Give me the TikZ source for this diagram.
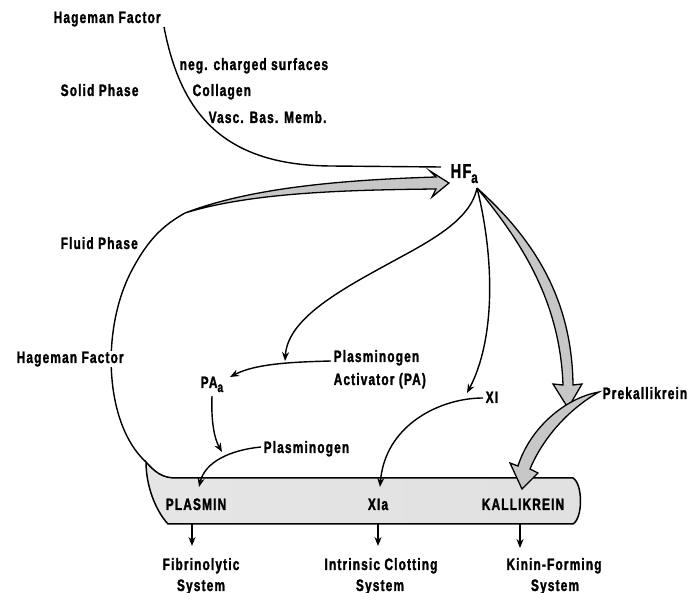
\documentclass[tikz,border=0pt]{standalone}
\usepackage{fontspec}
\setmainfont{Liberation Sans}[FakeStretch=0.72,LetterSpace=7,BoldFeatures={FakeBold=1.6}]
\usetikzlibrary{arrows.meta}
\begin{document}
\begin{tikzpicture}[x=1pt,y=-1pt,line width=1.4pt,
  lab/.style={inner sep=0pt,font=\bfseries\fontsize{16.5}{18}\selectfont},
  thinarrow/.style={-{Stealth[length=9pt,width=7pt]},line width=1.4pt},
  band/.style={fill=black!22,draw=black,line width=1.3pt,line join=miter}]
\useasboundingbox (0,0) rectangle (689,593);

% key points
\coordinate (hfo) at (477,188);
\coordinate (barTL) at (146,462);
\coordinate (fluidEnd) at (185,213);
\coordinate (solidStart) at (164,27);

% bar
\shadedraw[left color=black!10,middle color=black!42,right color=black!12,line width=1.5pt]
  (barTL) .. controls (155,472) and (162,478) .. (176,478) -- (573,478)
  .. controls (583,484) and (583,518) .. (573,524) -- (168,524)
  .. controls (155,510) and (146,485) .. (barTL) -- cycle;

% texts
\node[lab,anchor=base west] (hf1) at (53,23) {Hageman Factor};
\node[lab,anchor=base west] (neg) at (179,70) {neg. charged surfaces};
\node[lab,anchor=base west] (solid) at (60,96) {Solid Phase};
\node[lab,anchor=base west] (coll) at (192,96) {Collagen};
\node[lab,anchor=base west] (vasc) at (208,123) {Vasc. Bas. Memb.};
\node[lab,anchor=base west,font=\bfseries\fontsize{20}{20}\selectfont] (hfa) at (450,178) {HF\raisebox{-5pt}{\fontsize{16}{16}\selectfont a}};
\node[lab,anchor=base west] (fluid) at (60,249) {Fluid Phase};
\node[lab,anchor=base west] (pa1) at (333,362) {Plasminogen};
\node[lab,anchor=base west] (pa2) at (333,385) {Activator (PA)};
\node[lab,anchor=base west] (paa) at (200,388) {PA\raisebox{-4pt}{\fontsize{14}{14}\selectfont a}};
\node[lab,anchor=base west] (xi) at (485,403) {XI};
\node[lab,anchor=base west] (prek) at (602,399) {Prekallikrein};
\node[lab,anchor=base west] (plg) at (263,453) {Plasminogen};
\node[lab,anchor=base] (plasmin) at (196,510) {PLASMIN};
\node[lab,anchor=base] (xia) at (378,510) {XIa};
\node[lab,anchor=base] (kall) at (523,510) {KALLIKREIN};
\node[lab,anchor=base] (fib1) at (201,570) {Fibrinolytic};
\node[lab,anchor=base] (fib2) at (201,591) {System};
\node[lab,anchor=base] (int1) at (381,570) {Intrinsic Clotting};
\node[lab,anchor=base] (int2) at (380,591) {System};
\node[lab,anchor=base] (kin1) at (554,570) {Kinin-Forming};
\node[lab,anchor=base] (kin2) at (555,591) {System};

% solid phase activation
\draw (solidStart) .. controls (180,110) and (220,165) .. (330,166) -- (441,167);

% fluid phase loop
\draw (barTL) .. controls (105,425) and (100,330) .. (132,270)
  .. controls (148,240) and (162,226) .. (fluidEnd);
\filldraw[band] (fluidEnd) .. controls (250,188) and (340,180) .. (436,177)
  -- (430,171) -- (449,183) -- (432,197) -- (436,189)
  .. controls (340,190) and (250,193) .. (fluidEnd) -- cycle;
\node[lab,anchor=base west,fill=white,inner sep=1pt] (hf2) at (15,363) {Hageman Factor};

% broad arrows
\filldraw[band] (hfo) .. controls (520,240) and (560,300) .. (563,385)
  -- (553,384) -- (568,408) -- (582,384) -- (573,385)
  .. controls (572,300) and (535,240) .. (hfo) -- cycle;
\filldraw[band] (599,392) .. controls (565,398) and (530,428) .. (518,466)
  -- (510,463) -- (522,489) -- (538,473) -- (530,469)
  .. controls (542,440) and (567,410) .. (599,392) -- cycle;

% thin arrows
\draw[thinarrow] (hfo) .. controls (472,212) and (450,230) .. (410,252)
  .. controls (350,285) and (288,315) .. (285,361);
\draw[thinarrow] (331,361) .. controls (290,362) and (255,364) .. (230,377);
\draw[thinarrow] (212,396) .. controls (211,420) and (214,438) .. (222,452);
\draw[thinarrow] (261,447) .. controls (230,450) and (205,462) .. (199,487);
\draw[thinarrow] (hfo) .. controls (495,260) and (495,340) .. (467,393);
\draw[thinarrow] (483,398) .. controls (440,398) and (385,425) .. (380,487);

% outputs
\draw[thinarrow] (192,524) -- (192,546);
\draw[thinarrow] (378,524) -- (378,546);
\draw[thinarrow] (520,524) -- (520,548);
\end{tikzpicture}
\end{document}
